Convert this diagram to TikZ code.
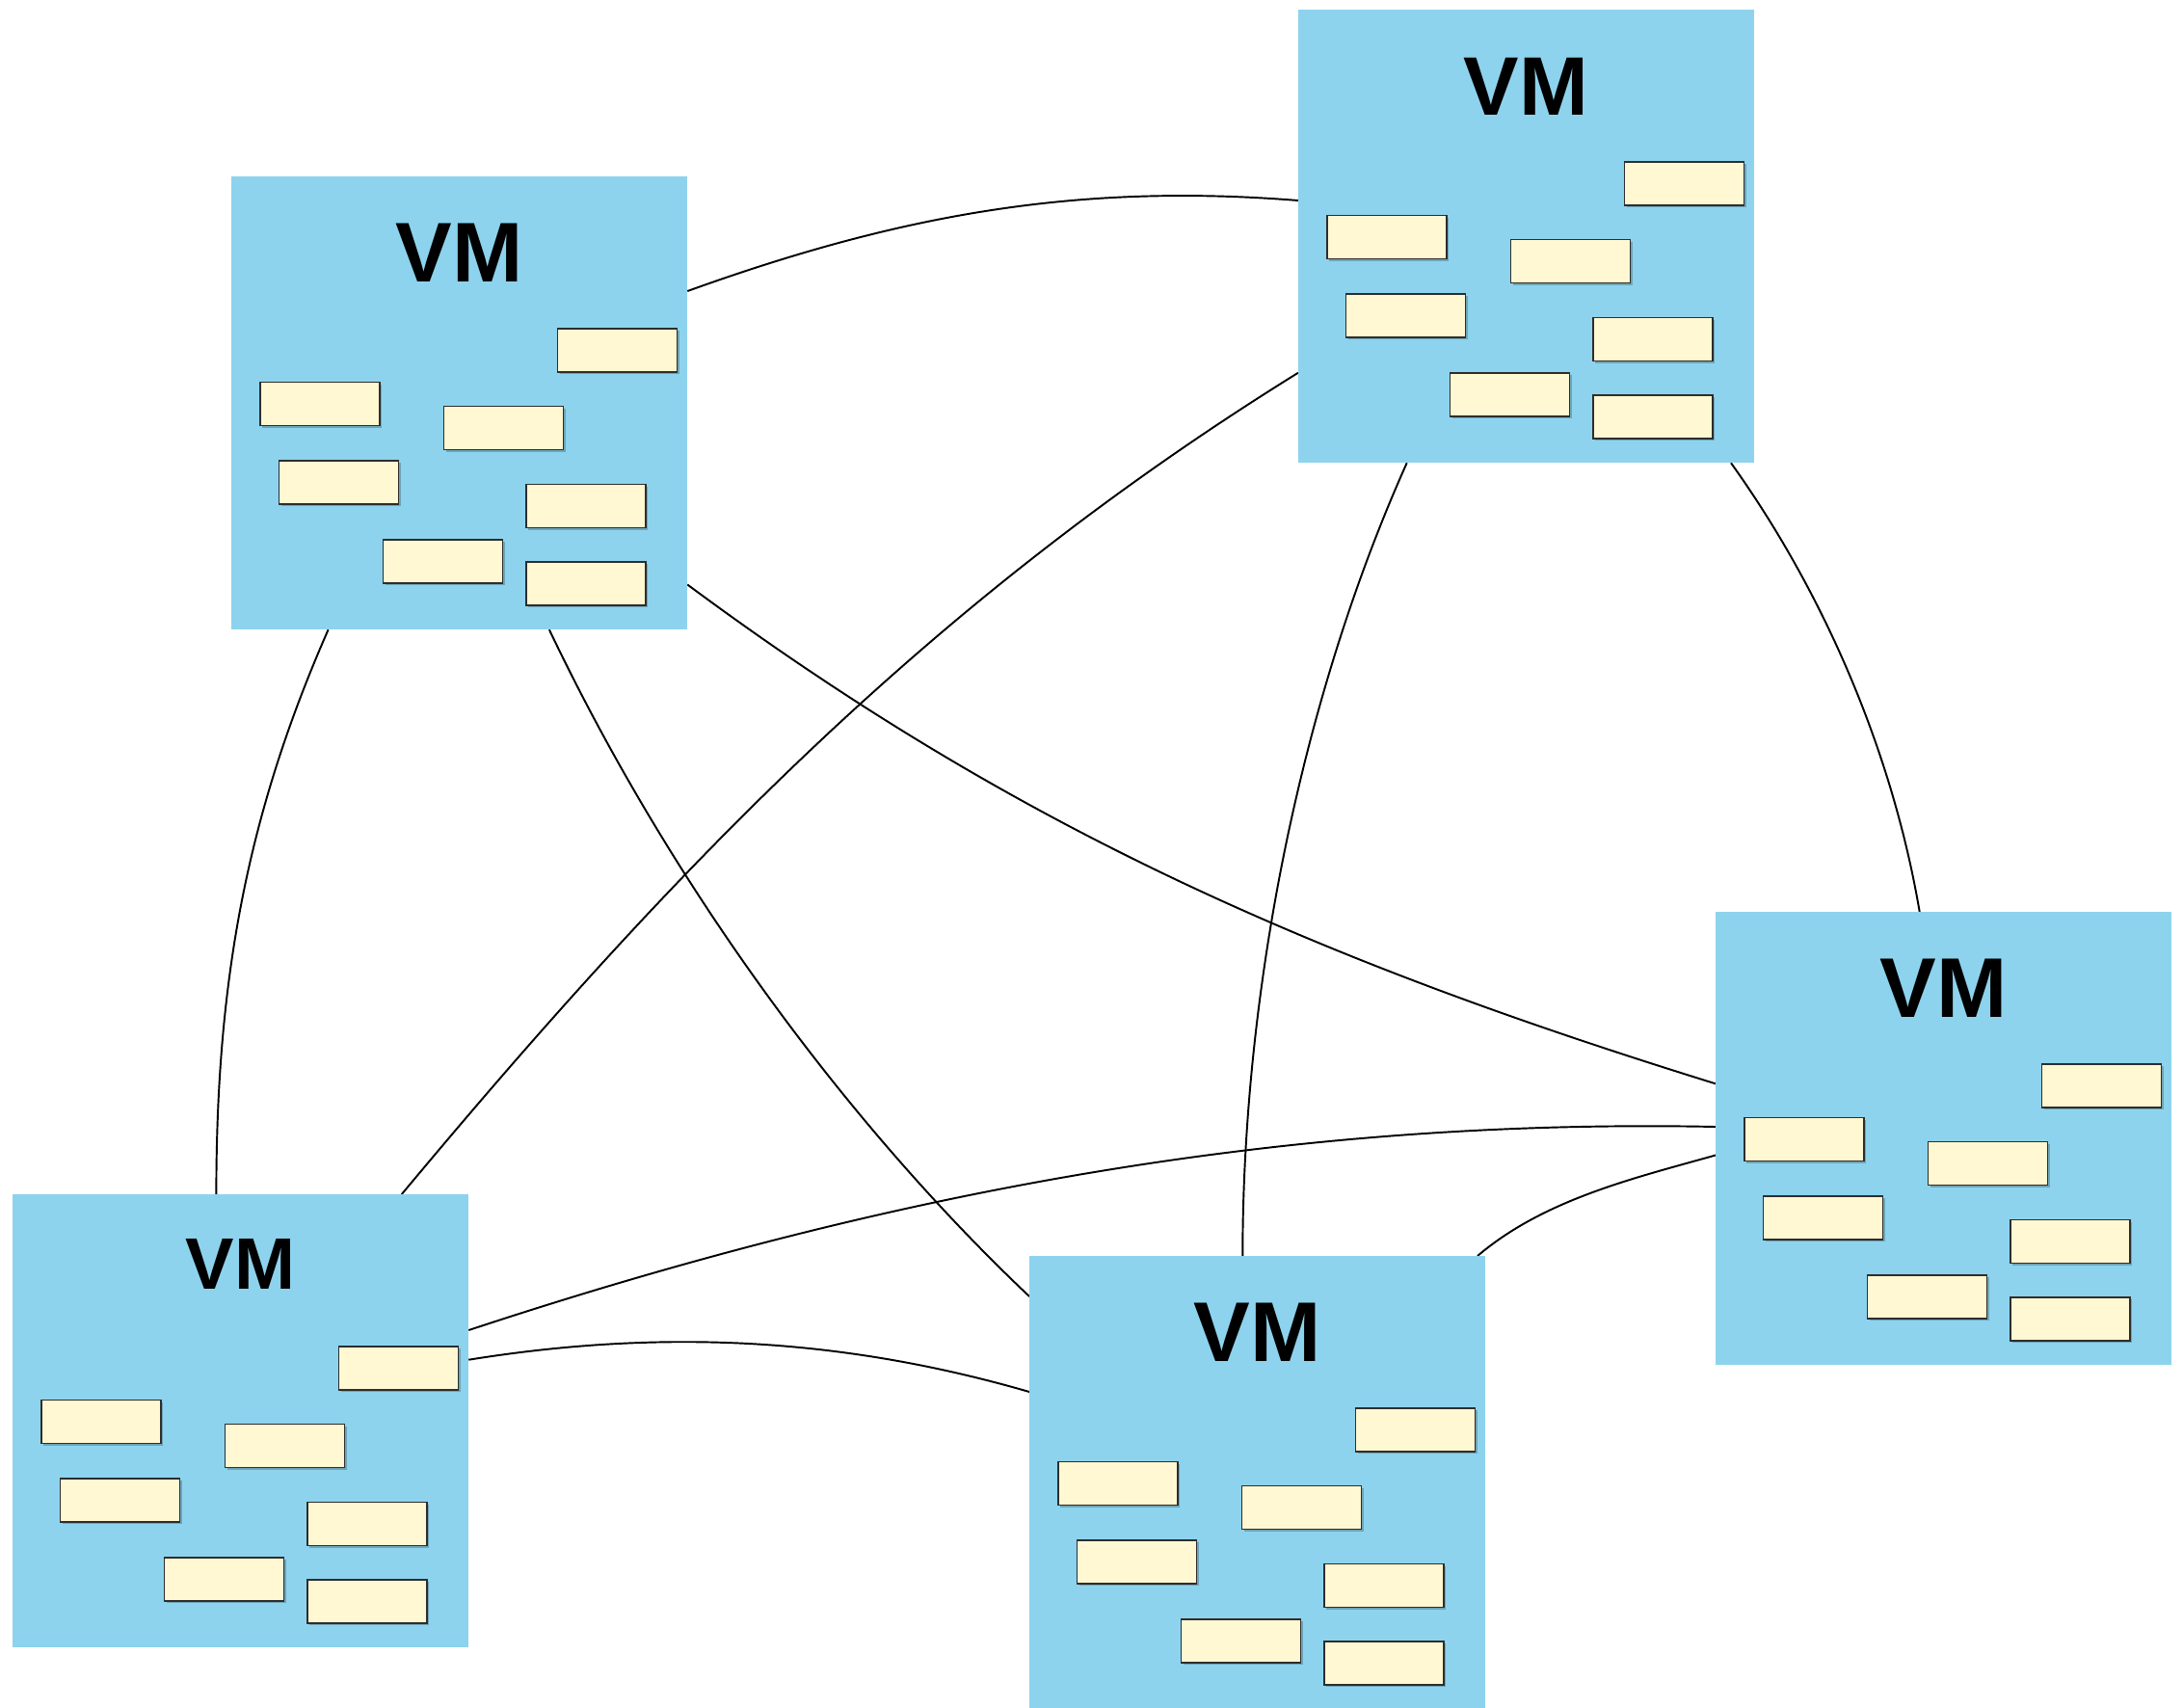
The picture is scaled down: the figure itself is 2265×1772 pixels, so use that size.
\documentclass[tikz,border=0pt]{standalone}
\usepackage{fontspec}
\setmainfont{Liberation Sans}
\usetikzlibrary{calc,shadows}
\pgfdeclarelayer{bg}
\pgfsetlayers{bg,main}
\definecolor{vmblue}{RGB}{141,211,237}
\definecolor{noteyellow}{RGB}{255,248,210}
\definecolor{noteedge}{RGB}{45,45,45}
\tikzset{
  vmbox/.style={fill=vmblue, draw=none, inner sep=0pt, outer sep=0pt,
    minimum width=4.73cm, minimum height=4.70cm, anchor=north west},
  note/.style={fill=noteyellow, draw=noteedge, line width=0.45pt, inner sep=0pt,
    minimum width=1.24cm, minimum height=0.45cm, anchor=north west,
    drop shadow={shadow xshift=0.6pt, shadow yshift=-0.6pt, opacity=0.22, fill=black}},
  vmlabel/.style={anchor=base, inner sep=0pt},
  link/.style={draw=black, line width=0.55pt},
}
\newcommand\VMunit[5]{%
  \node[vmbox] (#1) at (#2,#3) {};
  \node[vmlabel, font=\fontsize{#4}{#4}\selectfont\bfseries] (#1-label)
    at ($(#1.north west)+(236.5,#5)$) {VM};
  \node[note] (#1-n1) at ($(#1.north west)+(337.7,157)$) {};
  \node[note] (#1-n2) at ($(#1.north west)+(29,212.7)$) {};
  \node[note] (#1-n3) at ($(#1.north west)+(219.7,237.7)$) {};
  \node[note] (#1-n4) at ($(#1.north west)+(48.7,294.3)$) {};
  \node[note] (#1-n5) at ($(#1.north west)+(305.3,318.7)$) {};
  \node[note] (#1-n6) at ($(#1.north west)+(156.7,376.3)$) {};
  \node[note] (#1-n7) at ($(#1.north west)+(305.3,399.3)$) {};
}
\begin{document}
\begin{tikzpicture}[x=0.01cm, y=-0.01cm]
  \useasboundingbox (0,0) rectangle (2265,1772);
  \VMunit{vm1}{240}{183}{25pt}{109.5}
  \VMunit{vm2}{1347}{10}{24.5pt}{109.3}
  \VMunit{vm3}{13}{1239}{21.5pt}{98.3}
  \VMunit{vm4}{1068}{1303}{25pt}{109.5}
  \VMunit{vm5}{1780}{946}{25pt}{109.2}
  \begin{pgfonlayer}{bg}
    \fill[white] (0,0) rectangle (2265,1772);
    % VM1 - VM2
    \draw[link] ($(vm1.north east)+(0,119)$) .. controls (933,222.8) and (1117,189.6) .. ($(vm2.north west)+(0,198)$);
    % VM2 - VM3
    \draw[link] ($(vm2.north west)+(0,376.7)$) .. controls (968.7,621.2) and (701.6,897.2) .. ($(vm3.north west)+(403.8,0)$);
    % VM1 - VM5
    \draw[link] ($(vm1.north east)+(0,423.5)$) .. controls (1057.7,861.8) and (1370.3,997.3) .. ($(vm5.north west)+(0,178.3)$);
    % VM1 - VM3
    \draw[link] ($(vm1.south west)+(100.6,0)$) .. controls (254,850) and (224.4,1023.6) .. ($(vm3.north west)+(211.4,0)$);
    % VM1 - VM4
    \draw[link] ($(vm1.south west)+(329.9,0)$) .. controls (689.2,903.9) and (866.4,1153.8) .. ($(vm4.north west)+(0,42)$);
    % VM2 - VM4
    \draw[link] ($(vm2.south west)+(112.7,0)$) .. controls (1348.6,728) and (1289.3,1032) .. ($(vm4.north west)+(221.3,0)$);
    % VM2 - VM5
    \draw[link] ($(vm2.south west)+(449,0)$) .. controls (1893.5,616.4) and (1963.7,781.3) .. ($(vm5.north west)+(211.7,0)$);
    % VM3 - VM5
    \draw[link] ($(vm3.north east)+(0,141)$) .. controls (915.4,1238.2) and (1327,1159.9) .. ($(vm5.north west)+(0,223)$);
    % VM3 - VM4
    \draw[link] ($(vm3.north east)+(0,171.7)$) .. controls (685.4,1378.6) and (872.7,1387.4) .. ($(vm4.north west)+(0,141)$);
    % VM4 - VM5
    \draw[link] ($(vm4.north west)+(465,0)$) .. controls (1601.6,1244.7) and (1693.3,1222.8) .. ($(vm5.north west)+(0,252.5)$);
  \end{pgfonlayer}
\end{tikzpicture}
\end{document}
